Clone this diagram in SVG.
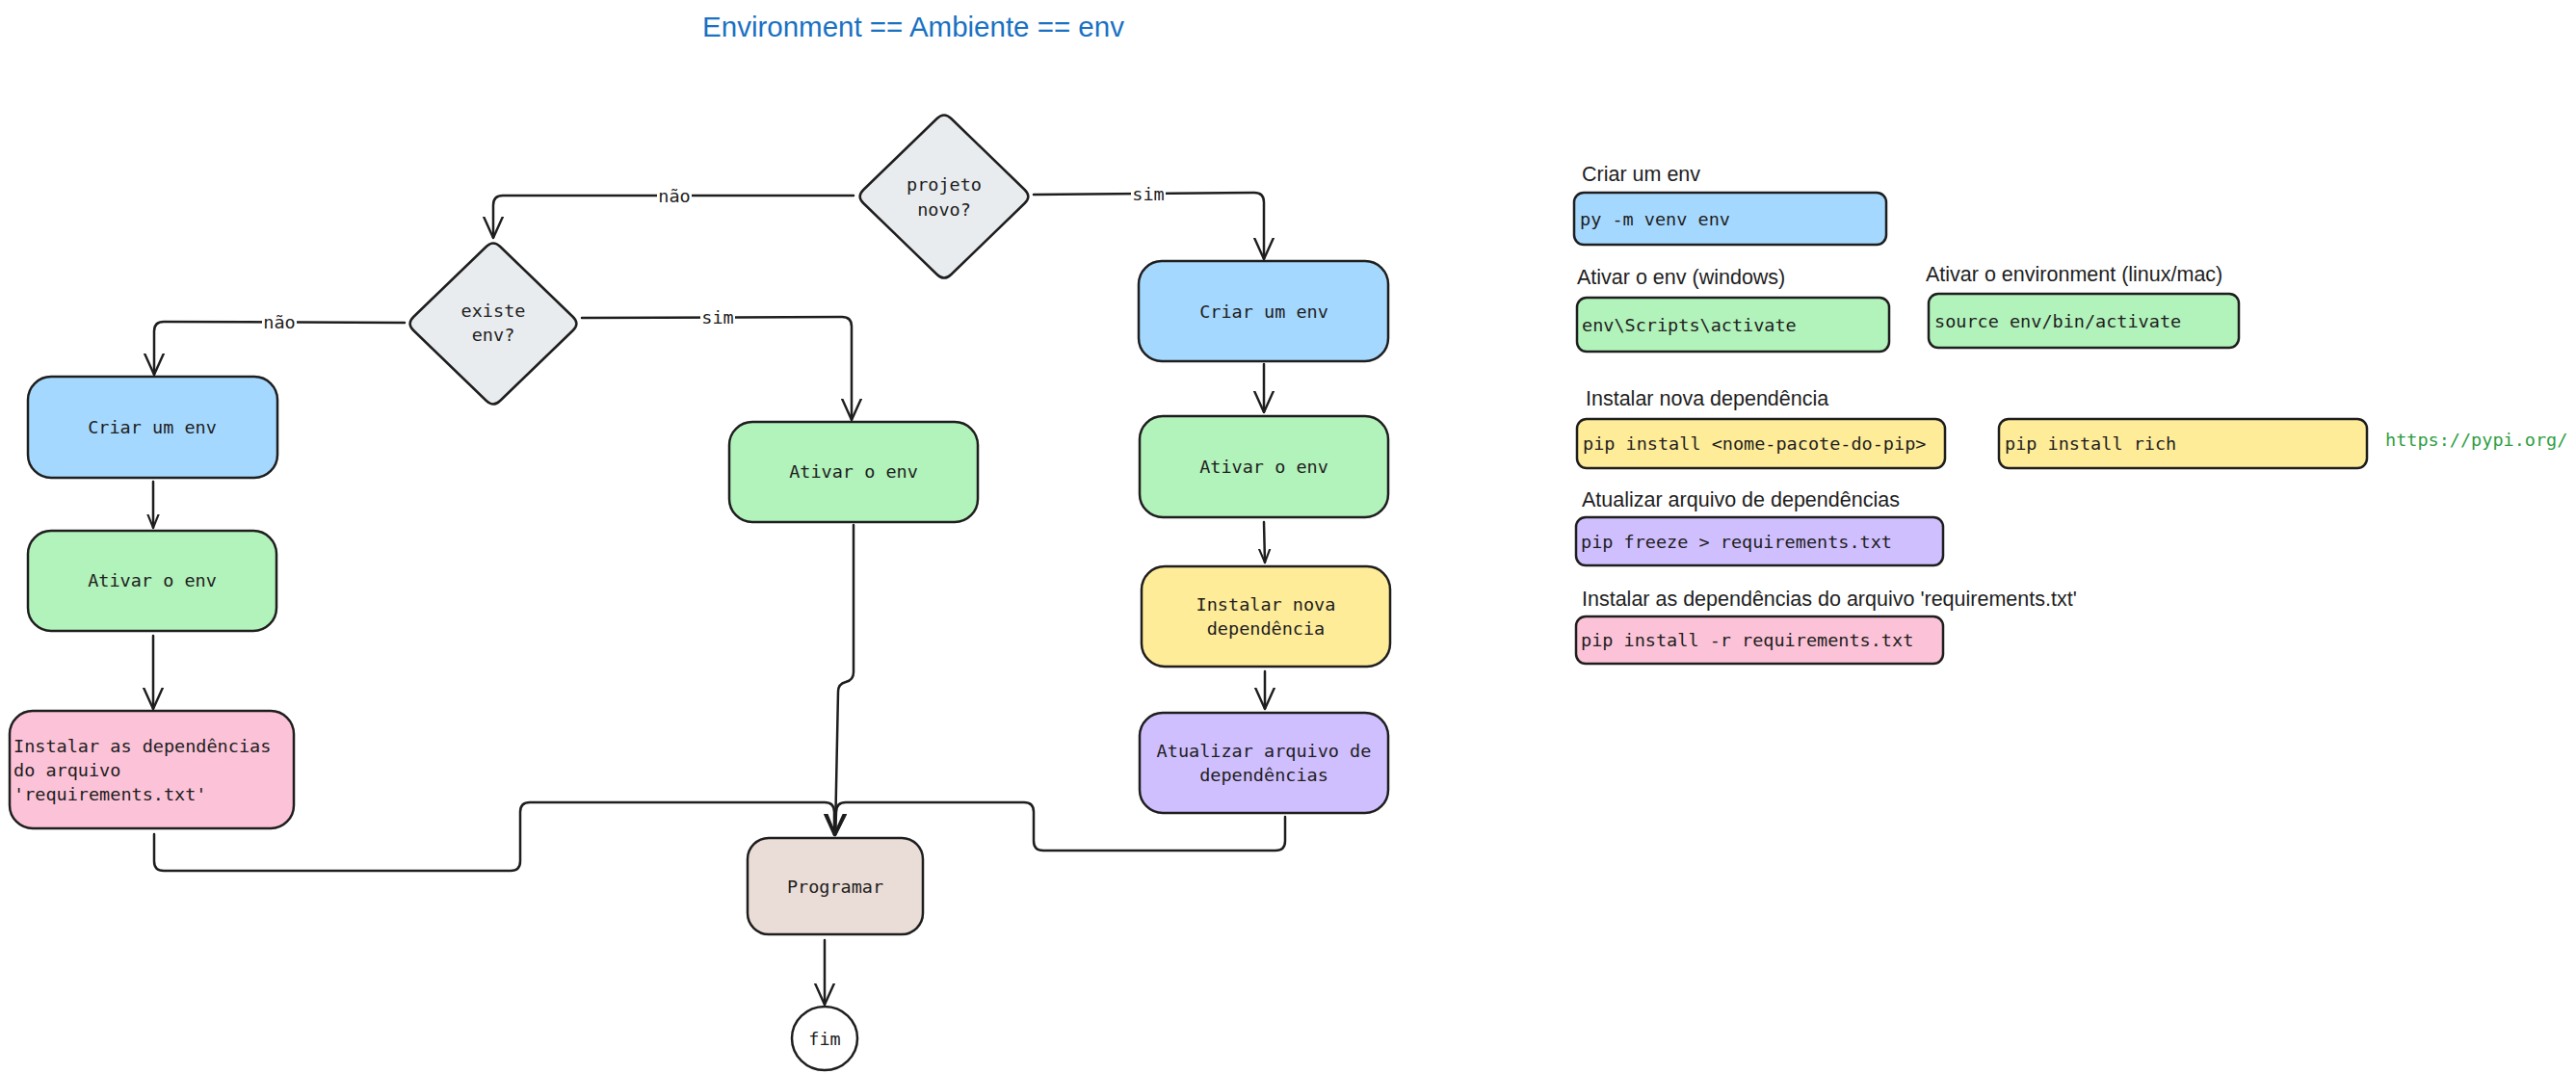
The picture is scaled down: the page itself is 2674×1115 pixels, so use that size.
<svg xmlns="http://www.w3.org/2000/svg" width="2674" height="1115" viewBox="0 0 2674 1115">
<style>
  .box{stroke:#1e1e1e;stroke-width:2.5;}
  .blue{fill:#a5d8ff}.green{fill:#b2f2bb}.pink{fill:#fcc2d7}.yellow{fill:#ffec99}.purple{fill:#d0bfff}.gray{fill:#e9ecef}.brown{fill:#eaddd7}
  .t{font-family:"DejaVu Sans Mono","Liberation Mono",monospace;font-size:18.5px;fill:#1e1e1e;dominant-baseline:central}
  .c{text-anchor:middle}
  .hw{font-family:"Liberation Sans","Noto Sans",sans-serif;font-size:21.5px;fill:#1e1e1e;dominant-baseline:central}
  .edge{fill:none;stroke:#1e1e1e;stroke-width:2.5;stroke-linecap:round;stroke-linejoin:round}
  .lbl{fill:#ffffff}
</style>
<defs>
  <marker id="ah" viewBox="0 0 20 20" refX="20" refY="10" markerWidth="22" markerHeight="22" markerUnits="userSpaceOnUse" orient="auto">
    <path d="M0,1 L20,10 L0,19" fill="none" stroke="#1e1e1e" stroke-width="2.2" stroke-linecap="round" stroke-linejoin="round"/>
  </marker>
  <marker id="ahs" viewBox="0 0 20 20" refX="20" refY="10" markerWidth="14" markerHeight="14" markerUnits="userSpaceOnUse" orient="auto">
    <path d="M0,2 L20,10 L0,18" fill="none" stroke="#1e1e1e" stroke-width="3" stroke-linecap="round" stroke-linejoin="round"/>
  </marker>
</defs>
<rect width="2674" height="1115" fill="#ffffff"/>

<g id="title">
  <text x="948" y="27" text-anchor="middle" font-family="Liberation Sans, Noto Sans, sans-serif" font-size="29.5" fill="#1971c2" dominant-baseline="central">Environment == Ambiente == env</text>
</g>

<g id="connectors">
  <path class="edge" d="M886,203 L522,203 Q512,203 512,213 L512,247" marker-end="url(#ah)"/>
  <path class="edge" d="M1073,202 L1302,200 Q1312,200 1312,210 L1312,269" marker-end="url(#ah)"/>
  <path class="edge" d="M420,335 L170,334 Q160,334 160,344 L160,389" marker-end="url(#ah)"/>
  <path class="edge" d="M604,330 L874,329 Q884,329 884,339 L884,436" marker-end="url(#ah)"/>
  <path class="edge" d="M159,500 L159,548" marker-end="url(#ahs)"/>
  <path class="edge" d="M159,660 L159,736" marker-end="url(#ah)"/>
  <path class="edge" d="M160,866 L160,894 Q160,904 170,904 L530,904 Q540,904 540,894 L540,843 Q540,833 550,833 L856,833 Q866,833 866,843 L866,867" marker-end="url(#ah)"/>
  <path class="edge" d="M886,545 L886,698 Q886,706 878,708 Q870,710 870,718 L867,867" marker-end="url(#ah)"/>
  <path class="edge" d="M1334,848 L1334,873 Q1334,883 1324,883 L1083,883 Q1073,883 1073,873 L1073,843 Q1073,833 1063,833 L878,833 Q868,833 868,843 L867,867" marker-end="url(#ah)"/>
  <path class="edge" d="M1312,378 L1312,428" marker-end="url(#ah)"/>
  <path class="edge" d="M1312,542 L1313,584" marker-end="url(#ahs)"/>
  <path class="edge" d="M1313,697 L1313,736" marker-end="url(#ah)"/>
  <path class="edge" d="M856,976 L856,1043" marker-end="url(#ah)"/>
  <rect class="lbl" x="682" y="192" width="36" height="22"/>
  <text class="t c" x="700" y="203">não</text>
  <rect class="lbl" x="1174" y="190" width="36" height="22"/>
  <text class="t c" x="1192" y="201">sim</text>
  <rect class="lbl" x="272" y="323" width="36" height="22"/>
  <text class="t c" x="290" y="334">não</text>
  <rect class="lbl" x="727" y="318" width="36" height="22"/>
  <text class="t c" x="745" y="329">sim</text>
</g>

<g id="projeto-novo">
  <path class="box gray" d="M987.3,123 L1063.7,197 Q1071,204 1063.7,211 L987.3,285 Q980,292 972.7,285 L896.3,211 Q889,204 896.3,197 L972.7,123 Q980,116 987.3,123 Z"/>
  <text class="t c" x="980" y="191">projeto</text>
  <text class="t c" x="980" y="217">novo?</text>
</g>

<g id="existe-env">
  <path class="box gray" d="M519.2,256 L594.8,329 Q602,336 594.8,343 L519.2,416 Q512,423 504.8,416 L429.2,343 Q422,336 429.2,329 L504.8,256 Q512,249 519.2,256 Z"/>
  <text class="t c" x="512" y="322">existe</text>
  <text class="t c" x="512" y="347">env?</text>
</g>

<g id="criar-env-left">
  <rect class="box blue" x="29" y="391" width="259" height="105" rx="24"/>
  <text class="t c" x="158" y="443">Criar um env</text>
</g>

<g id="ativar-env-left">
  <rect class="box green" x="29" y="551" width="258" height="104" rx="24"/>
  <text class="t c" x="158" y="602">Ativar o env</text>
</g>

<g id="instalar-deps">
  <rect class="box pink" x="10" y="738" width="295" height="122" rx="24"/>
  <text class="t" x="14" y="774">Instalar as dependências</text>
  <text class="t" x="14" y="799">do arquivo</text>
  <text class="t" x="14" y="824">'requirements.txt'</text>
</g>

<g id="ativar-env-mid">
  <rect class="box green" x="757" y="438" width="258" height="104" rx="24"/>
  <text class="t c" x="886" y="489">Ativar o env</text>
</g>

<g id="criar-env-right">
  <rect class="box blue" x="1182" y="271" width="259" height="104" rx="24"/>
  <text class="t c" x="1312" y="323">Criar um env</text>
</g>

<g id="ativar-env-right">
  <rect class="box green" x="1183" y="432" width="258" height="105" rx="24"/>
  <text class="t c" x="1312" y="484">Ativar o env</text>
</g>

<g id="instalar-nova">
  <rect class="box yellow" x="1185" y="588" width="258" height="104" rx="24"/>
  <text class="t c" x="1314" y="627">Instalar nova</text>
  <text class="t c" x="1314" y="652">dependência</text>
</g>

<g id="atualizar-arquivo">
  <rect class="box purple" x="1183" y="740" width="258" height="104" rx="24"/>
  <text class="t c" x="1312" y="779">Atualizar arquivo de</text>
  <text class="t c" x="1312" y="804">dependências</text>
</g>

<g id="programar">
  <rect class="box brown" x="776" y="870" width="182" height="100" rx="22"/>
  <text class="t c" x="867" y="920">Programar</text>
</g>

<g id="fim">
  <ellipse class="box" fill="#ffffff" cx="856" cy="1078" rx="34" ry="33"/>
  <text class="t c" x="856" y="1078">fim</text>
</g>

<g id="ref-criar">
  <text class="hw" x="1642" y="181">Criar um env</text>
  <rect class="box blue" x="1634" y="200" width="324" height="54" rx="10"/>
  <text class="t" x="1640" y="227">py -m venv env</text>
</g>

<g id="ref-ativar-win">
  <text class="hw" x="1637" y="288">Ativar o env (windows)</text>
  <rect class="box green" x="1637" y="309" width="324" height="56" rx="10"/>
  <text class="t" x="1642" y="337">env\Scripts\activate</text>
</g>

<g id="ref-ativar-linux">
  <text class="hw" x="1999" y="285">Ativar o environment (linux/mac)</text>
  <rect class="box green" x="2002" y="305" width="322" height="56" rx="10"/>
  <text class="t" x="2008" y="333">source env/bin/activate</text>
</g>

<g id="ref-instalar">
  <text class="hw" x="1646" y="414">Instalar nova dependência</text>
  <rect class="box yellow" x="1637" y="435" width="382" height="51" rx="10"/>
  <text class="t" x="1643" y="460">pip install &lt;nome-pacote-do-pip&gt;</text>
</g>

<g id="ref-instalar-rich">
  <rect class="box yellow" x="2075" y="435" width="382" height="51" rx="10"/>
  <text class="t" x="2081" y="460">pip install rich</text>
</g>

<g id="ref-pypi">
  <text class="t" x="2476" y="456" style="fill:#2f9e44">https://pypi.org/</text>
</g>

<g id="ref-atualizar">
  <text class="hw" x="1642" y="519">Atualizar arquivo de dependências</text>
  <rect class="box purple" x="1636" y="537" width="381" height="50" rx="10"/>
  <text class="t" x="1641" y="562">pip freeze &gt; requirements.txt</text>
</g>

<g id="ref-instalar-req">
  <text class="hw" x="1642" y="622">Instalar as dependências do arquivo 'requirements.txt'</text>
  <rect class="box pink" x="1636" y="640" width="381" height="49" rx="10"/>
  <text class="t" x="1641" y="664">pip install -r requirements.txt</text>
</g>
</svg>
